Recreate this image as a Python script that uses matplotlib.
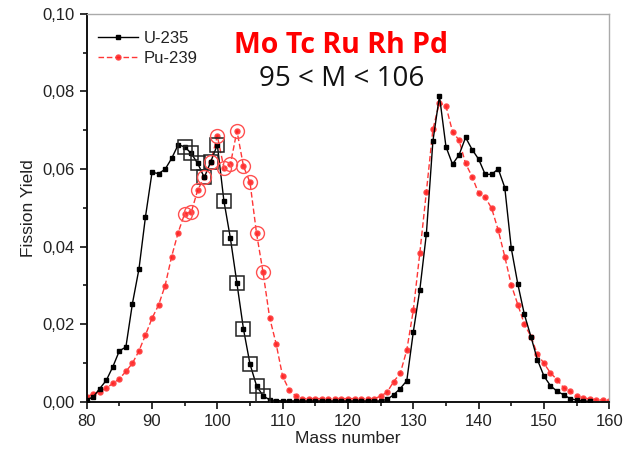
import matplotlib
matplotlib.use("Agg")
import matplotlib.pyplot as plt
from matplotlib.ticker import MultipleLocator, FuncFormatter

mass = list(range(80, 161))

u235 = [0.0005, 0.0012, 0.0034, 0.0055, 0.0090, 0.0131, 0.0141, 0.0253, 0.0342, 0.0477,
        0.0591, 0.0588, 0.0599, 0.0627, 0.0662, 0.0657, 0.0640, 0.0614, 0.0578, 0.0619,
        0.0662, 0.0518, 0.0421, 0.0305, 0.0187, 0.0097, 0.0041, 0.0015, 0.0005, 0.0003,
        0.0002, 0.0002, 0.0002, 0.0002, 0.0002, 0.0002, 0.0002, 0.0002, 0.0002, 0.0002,
        0.0002, 0.0002, 0.0002, 0.0002, 0.0002, 0.0002, 0.0006, 0.0018, 0.0034, 0.0054,
        0.0180, 0.0289, 0.0433, 0.0672, 0.0788, 0.0657, 0.0612, 0.0636, 0.0681, 0.0650,
        0.0625, 0.0586, 0.0586, 0.0600, 0.0552, 0.0395, 0.0303, 0.0225, 0.0168, 0.0108,
        0.0066, 0.0041, 0.0027, 0.0018, 0.0008, 0.0004, 0.0002, 0.0001]
u_mass = mass[:len(u235)]

pu239 = [0.0013, 0.0020, 0.0026, 0.0035, 0.0047, 0.0059, 0.0078, 0.0099, 0.0131, 0.0172,
         0.0215, 0.0249, 0.0299, 0.0374, 0.0436, 0.0485, 0.0488, 0.0546, 0.0578, 0.0619,
         0.0685, 0.0603, 0.0612, 0.0698, 0.0607, 0.0565, 0.0434, 0.0333, 0.0217, 0.0149,
         0.0065, 0.0030, 0.0015, 0.0008, 0.0008, 0.0008, 0.0008, 0.0008, 0.0008, 0.0008,
         0.0008, 0.0008, 0.0008, 0.0008, 0.0008, 0.0014, 0.0025, 0.0052, 0.0073, 0.0133,
         0.0236, 0.0384, 0.0541, 0.0702, 0.0771, 0.0762, 0.0696, 0.0674, 0.0614, 0.0580,
         0.0537, 0.0527, 0.0498, 0.0442, 0.0374, 0.0301, 0.0250, 0.0200, 0.0168, 0.0122,
         0.0099, 0.0074, 0.0057, 0.0036, 0.0027, 0.0014, 0.0010, 0.0007, 0.0005, 0.0004,
         0.0003]
pu_mass = mass[:len(pu239)]

highlight_lo, highlight_hi = 95, 107
title_elements = "Mo Tc Ru Rh Pd"
title_range = "95 < M < 106"

plt.rcParams['font.family'] = ['Liberation Sans', 'DejaVu Sans']

fig = plt.figure(figsize=(6.26, 4.54), dpi=100)
ax = fig.add_axes([0.1385, 0.1152, 0.8348, 0.8546])

ax.plot(u_mass, u235, '-', color='black', lw=1.0, marker='s', ms=3.2,
        mfc='black', mec='black', label='U-235', zorder=3)
ax.plot(pu_mass, pu239, '--', color='#ff2020', lw=1.0, marker='o', ms=3.6,
        mfc='#ff2020', mec='#ff4040', dashes=(4, 2), label='Pu-239', alpha=0.9, zorder=2)

hx_u = [m for m, v in zip(u_mass, u235) if highlight_lo <= m <= highlight_hi]
hy_u = [v for m, v in zip(u_mass, u235) if highlight_lo <= m <= highlight_hi]
hx_p = [m for m, v in zip(pu_mass, pu239) if highlight_lo <= m <= highlight_hi]
hy_p = [v for m, v in zip(pu_mass, pu239) if highlight_lo <= m <= highlight_hi]
ax.plot(hx_u, hy_u, 's', ms=9.5, mfc='none', mec='#222222', mew=1.1, zorder=4)
ax.plot(hx_p, hy_p, 'o', ms=10, mfc='none', mec='#ff5050', mew=1.0, zorder=4)

ax.set_xlim(80, 160)
ax.set_ylim(0, 0.10)
ax.xaxis.set_major_locator(MultipleLocator(10))
ax.xaxis.set_minor_locator(MultipleLocator(5))
ax.yaxis.set_major_locator(MultipleLocator(0.02))
ax.yaxis.set_minor_locator(MultipleLocator(0.01))
ax.yaxis.set_major_formatter(FuncFormatter(lambda v, p: f"{v:.2f}".replace('.', ',')))

ax.tick_params(axis='both', which='major', direction='out', length=5, width=1.3,
               labelsize=12, colors='#222222')
ax.tick_params(axis='both', which='minor', direction='out', length=3, width=1.1)
for s in ('left', 'bottom'):
    ax.spines[s].set_linewidth(1.4)
    ax.spines[s].set_color('#111111')
for s in ('top', 'right'):
    ax.spines[s].set_linewidth(1.0)
    ax.spines[s].set_color('#aaaaaa')

ax.set_xlabel('Mass number', fontsize=12.5, color='#222222', labelpad=2)
ax.set_ylabel('Fission Yield', fontsize=12.5, color='#222222', labelpad=5)

leg = ax.legend(loc='upper left', bbox_to_anchor=(0.0, 0.985), frameon=False,
                fontsize=12, handlelength=2.4, handletextpad=0.3, labelspacing=0.3,
                borderaxespad=0.3)
for t in leg.get_texts():
    t.set_color('#222222')

ax.text(0.487, 0.918, title_elements, transform=ax.transAxes, ha='center', va='center',
        fontsize=20.5, fontweight='bold', color='#ff0000', family=['Open Sans', 'DejaVu Sans'])
ax.text(0.487, 0.833, title_range, transform=ax.transAxes, ha='center', va='center',
        fontsize=20, color='#111111', family=['Open Sans', 'DejaVu Sans'])

fig.savefig('out.png', dpi=100)
